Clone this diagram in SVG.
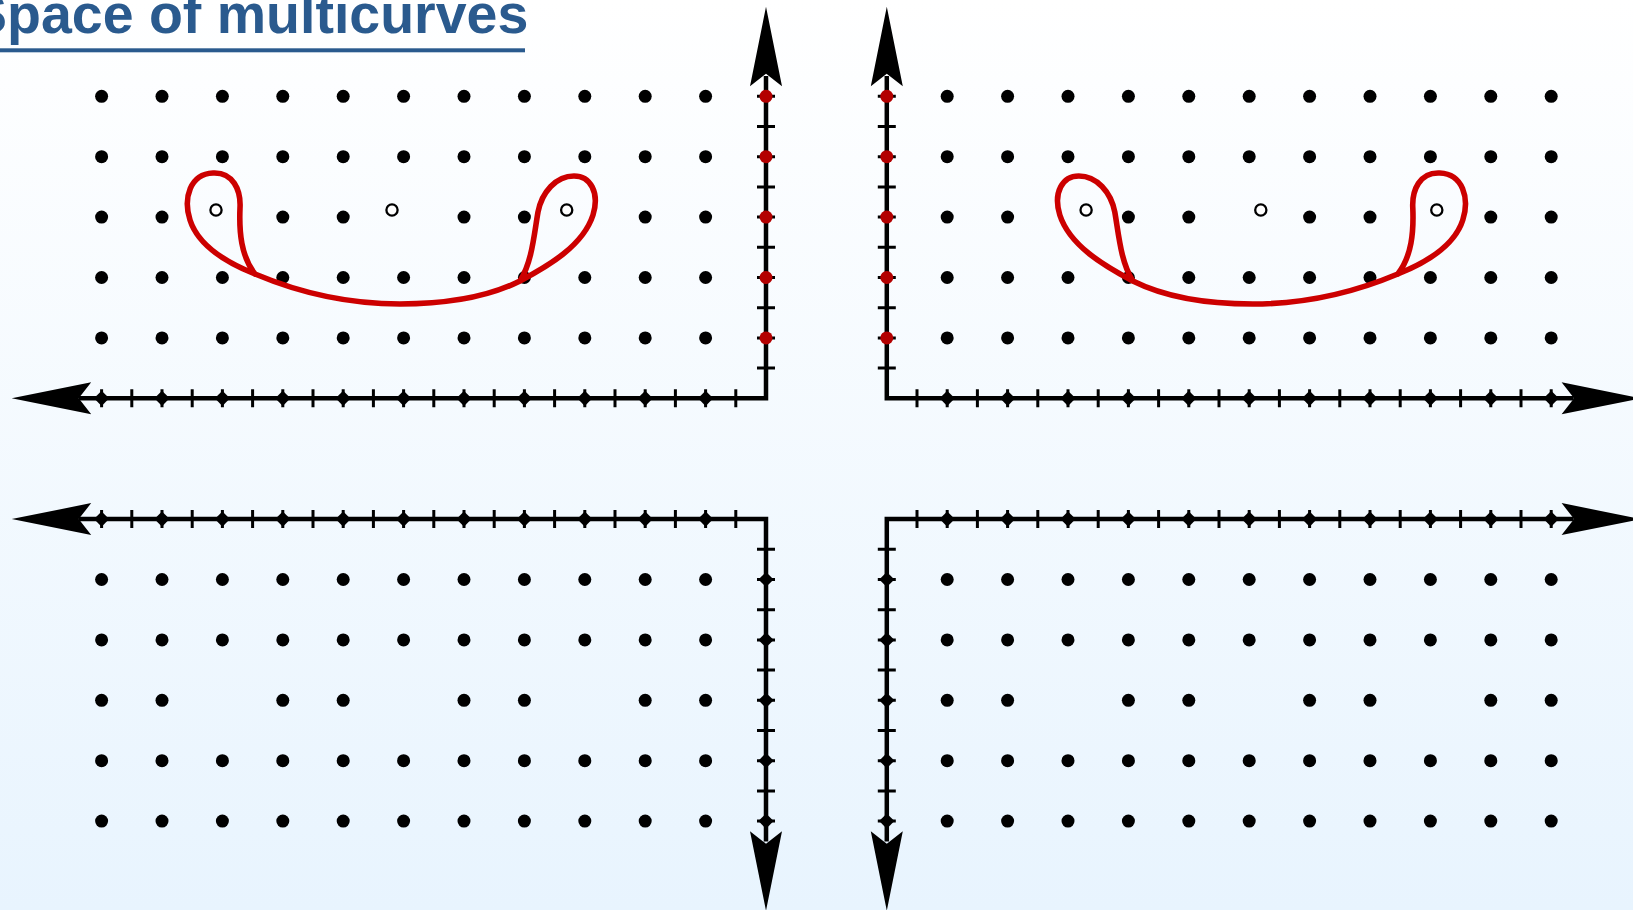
<svg xmlns="http://www.w3.org/2000/svg" xmlns:xlink="http://www.w3.org/1999/xlink" width="1633" height="910" viewBox="0 0 1633 910">
<style>
.ax{fill:none;stroke:#000;stroke-width:4.5;stroke-linejoin:miter}
.tk{fill:none;stroke:#000;stroke-width:3}
.cv{fill:none;stroke:#cc0000;stroke-width:5.6;stroke-linecap:round;stroke-linejoin:round}
.pu{fill:#ffffff;stroke:#000;stroke-width:2.3}
.rd{fill:#b30000}
.title{font-family:"Liberation Sans",Arial,sans-serif;font-weight:bold;font-size:55.5px;fill:#2a5a8e}
</style>
<defs>
<linearGradient id="bg" x1="0" y1="0" x2="0" y2="1">
<stop offset="0" stop-color="#ffffff"/>
<stop offset="1" stop-color="#e8f4fe"/>
</linearGradient>
<path id="ah" d="M0,0 L-79.5,-16 L-67,0 L-79.5,16 Z"/>
<path id="dm" d="M-7.6,0 L0,-7.6 L7.6,0 L0,7.6 Z"/>
<g id="rowA">
<circle cx="101.6" r="6.5"/><circle cx="162" r="6.5"/><circle cx="222.4" r="6.5"/><circle cx="282.8" r="6.5"/><circle cx="343.2" r="6.5"/><circle cx="403.6" r="6.5"/><circle cx="464" r="6.5"/><circle cx="524.4" r="6.5"/><circle cx="584.8" r="6.5"/><circle cx="645.2" r="6.5"/><circle cx="705.6" r="6.5"/>
</g>
<g id="rowB">
<circle cx="101.6" r="6.5"/><circle cx="162" r="6.5"/><circle cx="282.8" r="6.5"/><circle cx="343.2" r="6.5"/><circle cx="464" r="6.5"/><circle cx="524.4" r="6.5"/><circle cx="645.2" r="6.5"/><circle cx="705.6" r="6.5"/>
</g>
<g id="dotsTL">
<use xlink:href="#rowA" y="96.3"/>
<use xlink:href="#rowA" y="156.7"/>
<use xlink:href="#rowB" y="217.1"/>
<use xlink:href="#rowA" y="277.5"/>
<use xlink:href="#rowA" y="337.9"/>
</g>
<g id="axesTL">
<path class="ax" d="M766,76 V398.3 H79"/>
<path class="tk" d="M735.8,389.3v18M705.6,389.3v18M675.4,389.3v18M645.2,389.3v18M615,389.3v18M584.8,389.3v18M554.6,389.3v18M524.4,389.3v18M494.2,389.3v18M464,389.3v18M433.8,389.3v18M403.6,389.3v18M373.4,389.3v18M343.2,389.3v18M313,389.3v18M282.8,389.3v18M252.6,389.3v18M222.4,389.3v18M192.2,389.3v18M162,389.3v18M131.8,389.3v18M101.6,389.3v18"/>
<path class="tk" d="M757,368.1h18M757,337.9h18M757,307.7h18M757,277.5h18M757,247.3h18M757,217.1h18M757,186.9h18M757,156.7h18M757,126.5h18M757,96.3h18"/>
<use xlink:href="#dm" x="101.6" y="398.3"/><use xlink:href="#dm" x="162" y="398.3"/><use xlink:href="#dm" x="222.4" y="398.3"/><use xlink:href="#dm" x="282.8" y="398.3"/><use xlink:href="#dm" x="343.2" y="398.3"/><use xlink:href="#dm" x="403.6" y="398.3"/><use xlink:href="#dm" x="464" y="398.3"/><use xlink:href="#dm" x="524.4" y="398.3"/><use xlink:href="#dm" x="584.8" y="398.3"/><use xlink:href="#dm" x="645.2" y="398.3"/><use xlink:href="#dm" x="705.6" y="398.3"/>
<use xlink:href="#ah" transform="translate(11.7,398.3) rotate(180)"/>
<use xlink:href="#ah" transform="translate(766,6.7) rotate(-90)"/>
</g>
<g id="redV">
<circle class="rd" cx="766" cy="96.3" r="6.5"/><circle class="rd" cx="766" cy="156.7" r="6.5"/><circle class="rd" cx="766" cy="217.1" r="6.5"/><circle class="rd" cx="766" cy="277.5" r="6.5"/><circle class="rd" cx="766" cy="337.9" r="6.5"/>
</g>
<g id="diaV">
<use xlink:href="#dm" x="766" y="96.3"/><use xlink:href="#dm" x="766" y="156.7"/><use xlink:href="#dm" x="766" y="217.1"/><use xlink:href="#dm" x="766" y="277.5"/><use xlink:href="#dm" x="766" y="337.9"/>
</g>
<g id="curveTL">
<path class="cv" d="M255,274 C300,293 350,304 400,304 C450,304 490,296 520,281 C548,266 583,246 593,215 C600,192 590,176 574,176 C556,176 542,192 538,212 C534,235 532,262 520,281 M255,274 C225,262 198,245 190,220 C183,198 190,174 213,173 C233,172 241,190 240,208 C239,232 241,256 255,274"/>
<circle class="pu" cx="216" cy="210" r="5.6"/>
<circle class="pu" cx="392" cy="210" r="5.6"/>
<circle class="pu" cx="566.7" cy="210" r="5.6"/>
</g>
</defs>
<rect x="0" y="0" width="1633" height="910" fill="url(#bg)"/>
<g id="quadrant-top-left">
<use xlink:href="#dotsTL"/>
<use xlink:href="#axesTL"/>
<use xlink:href="#redV"/>
</g>
<g id="quadrant-top-right" transform="matrix(-1 0 0 1 1652.8 0)">
<use xlink:href="#dotsTL"/>
<use xlink:href="#axesTL"/>
<use xlink:href="#redV"/>
</g>
<g id="quadrant-bottom-left" transform="matrix(1 0 0 -1 0 917.4)">
<use xlink:href="#dotsTL"/>
<use xlink:href="#axesTL"/>
<use xlink:href="#diaV"/>
</g>
<g id="quadrant-bottom-right" transform="matrix(-1 0 0 -1 1652.8 917.4)">
<use xlink:href="#dotsTL"/>
<use xlink:href="#axesTL"/>
<use xlink:href="#diaV"/>
</g>
<g id="multicurve-left">
<use xlink:href="#curveTL"/>
</g>
<g id="multicurve-right" transform="matrix(-1 0 0 1 1652.8 0)">
<use xlink:href="#curveTL"/>
</g>
<g id="title">
<text class="title" x="-30" y="33">Space of multicurves</text>
<rect x="0" y="48.3" width="525" height="4" fill="#2a5a8e"/>
</g>
</svg>
